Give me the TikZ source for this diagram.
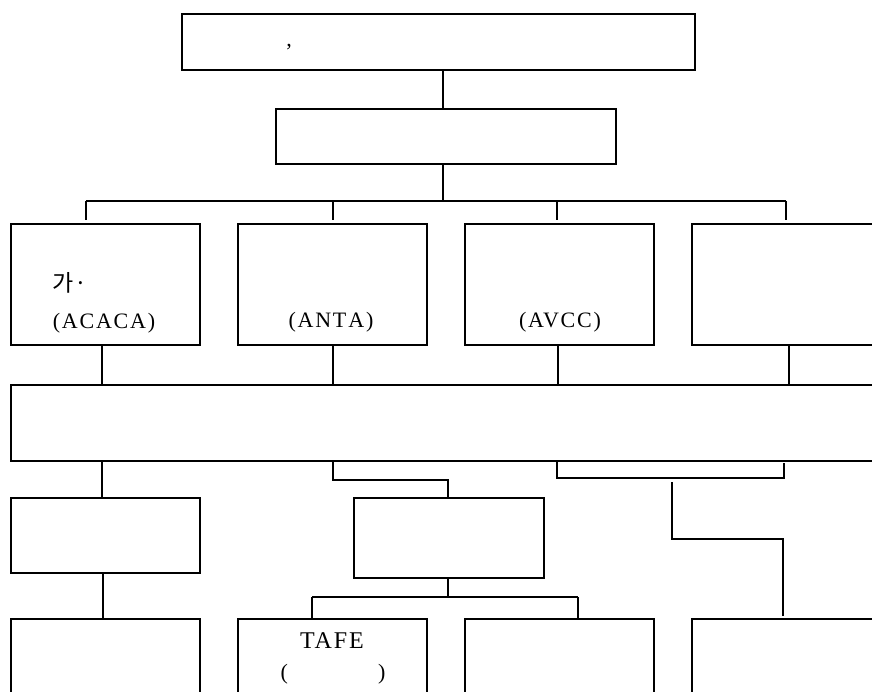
\documentclass[tikz,border=0pt]{standalone}
\usepackage{fontspec}
\setmainfont{Liberation Serif}
\newfontfamily\lsfont[LetterSpace=8]{Liberation Serif}
\newfontfamily\tafefont[LetterSpace=8]{Liberation Serif}
\newfontfamily\krfont{Noto Sans CJK KR}
\begin{document}
\begin{tikzpicture}[x=1pt,y=-1pt,
  box/.style={draw,line width=2.2pt,inner sep=0pt,anchor=north west},
  conn/.style={line width=1.6pt},
  lbl/.style={inner sep=0pt,font={\lsfont\fontsize{22}{24}\selectfont}},
  biglbl/.style={inner sep=0pt,font={\tafefont\fontsize{24}{26}\selectfont}},
  krl/.style={inner sep=0pt,font={\krfont\fontsize{23}{26}\selectfont}}]
\useasboundingbox (0,0) rectangle (872,692);
% boxes
\node[box,minimum width=513pt,minimum height=56pt] (top) at (181,13) {};
\node[box,minimum width=340pt,minimum height=55pt] (mid) at (275,108) {};
\node[box,minimum width=189pt,minimum height=121pt] (r1a) at (10,223) {};
\node[box,minimum width=189pt,minimum height=121pt] (r1b) at (237,223) {};
\node[box,minimum width=189pt,minimum height=121pt] (r1c) at (464,223) {};
\node[box,minimum width=200pt,minimum height=121pt] (r1d) at (691,223) {};
\node[box,minimum width=880pt,minimum height=76pt] (wide) at (10,384) {};
\node[box,minimum width=189pt,minimum height=75pt] (la) at (10,497) {};
\node[box,minimum width=190pt,minimum height=80pt] (mb) at (353,497) {};
\node[box,minimum width=189pt,minimum height=100pt] (b1) at (10,618) {};
\node[box,minimum width=189pt,minimum height=100pt] (b2) at (237,618) {};
\node[box,minimum width=189pt,minimum height=100pt] (b3) at (464,618) {};
\node[box,minimum width=200pt,minimum height=100pt] (b4) at (691,618) {};
% texts
\node[lbl] (comma) at (289,47) {,};
\node[krl,anchor=west] (ka) at (52,283) {가\kern1pt·};
\node[lbl] (acaca) at (104,323) {(ACACA)};
\node[lbl] (anta) at (331,322) {(ANT\kern2pt A)};
\node[lbl] (avcc) at (560,322) {(AVCC)};
\node[biglbl] (tafe) at (332,641) {TAFE};
\node[lbl] (paren) at (333,674) {(\hspace{90pt})};
% coordinates
\coordinate (bus) at (443,201);
\coordinate (d1) at (86,201);
\coordinate (d2) at (333,201);
\coordinate (d3) at (557,201);
\coordinate (d4) at (786,201);
\coordinate (x102) at (102,0);
\coordinate (x103) at (103,0);
\coordinate (x333) at (333,0);
\coordinate (x558) at (558,0);
\coordinate (x789) at (789,0);
\coordinate (x448) at (448,0);
\coordinate (x557) at (557,0);
\coordinate (m1) at (333,480);
\coordinate (m2) at (448,480);
\coordinate (m3) at (448,597);
\coordinate (s1) at (312,597);
\coordinate (s2) at (578,597);
\coordinate (r1) at (557,478);
\coordinate (r2) at (784,478);
\coordinate (r3) at (784,463);
\coordinate (q1) at (672,482);
\coordinate (q2) at (672,539);
\coordinate (q3) at (783,539);
% connectors
\draw[conn] (top.south -| bus) -- (mid.north -| bus);
\draw[conn] (mid.south -| bus) -- (bus);
\draw[conn] (d1) -- (d4);
\foreach \d in {d1,d2,d3,d4} \draw[conn,shorten >=3pt] (\d) -- (\d |- r1a.north);
\draw[conn] (r1a.south -| x102) -- (wide.north -| x102);
\draw[conn] (r1b.south -| x333) -- (wide.north -| x333);
\draw[conn] (r1c.south -| x558) -- (wide.north -| x558);
\draw[conn] (r1d.south -| x789) -- (wide.north -| x789);
\draw[conn] (wide.south -| x102) -- (la.north -| x102);
\draw[conn] (la.south -| x103) -- (b1.north -| x103);
\draw[conn] (wide.south -| x333) -- (m1) -- (m2) -- (mb.north -| x448);
\draw[conn] (mb.south -| x448) -- (m3);
\draw[conn] (s1) -- (s2);
\draw[conn] (s1) -- (s1 |- b2.north);
\draw[conn] (s2) -- (s2 |- b3.north);
\draw[conn] (wide.south -| x557) -- (r1) -- (r2) -- (r3);
\draw[conn,shorten >=2pt] (q1) -- (q2) -- (q3) -- (q3 |- b4.north);
\end{tikzpicture}
\end{document}
